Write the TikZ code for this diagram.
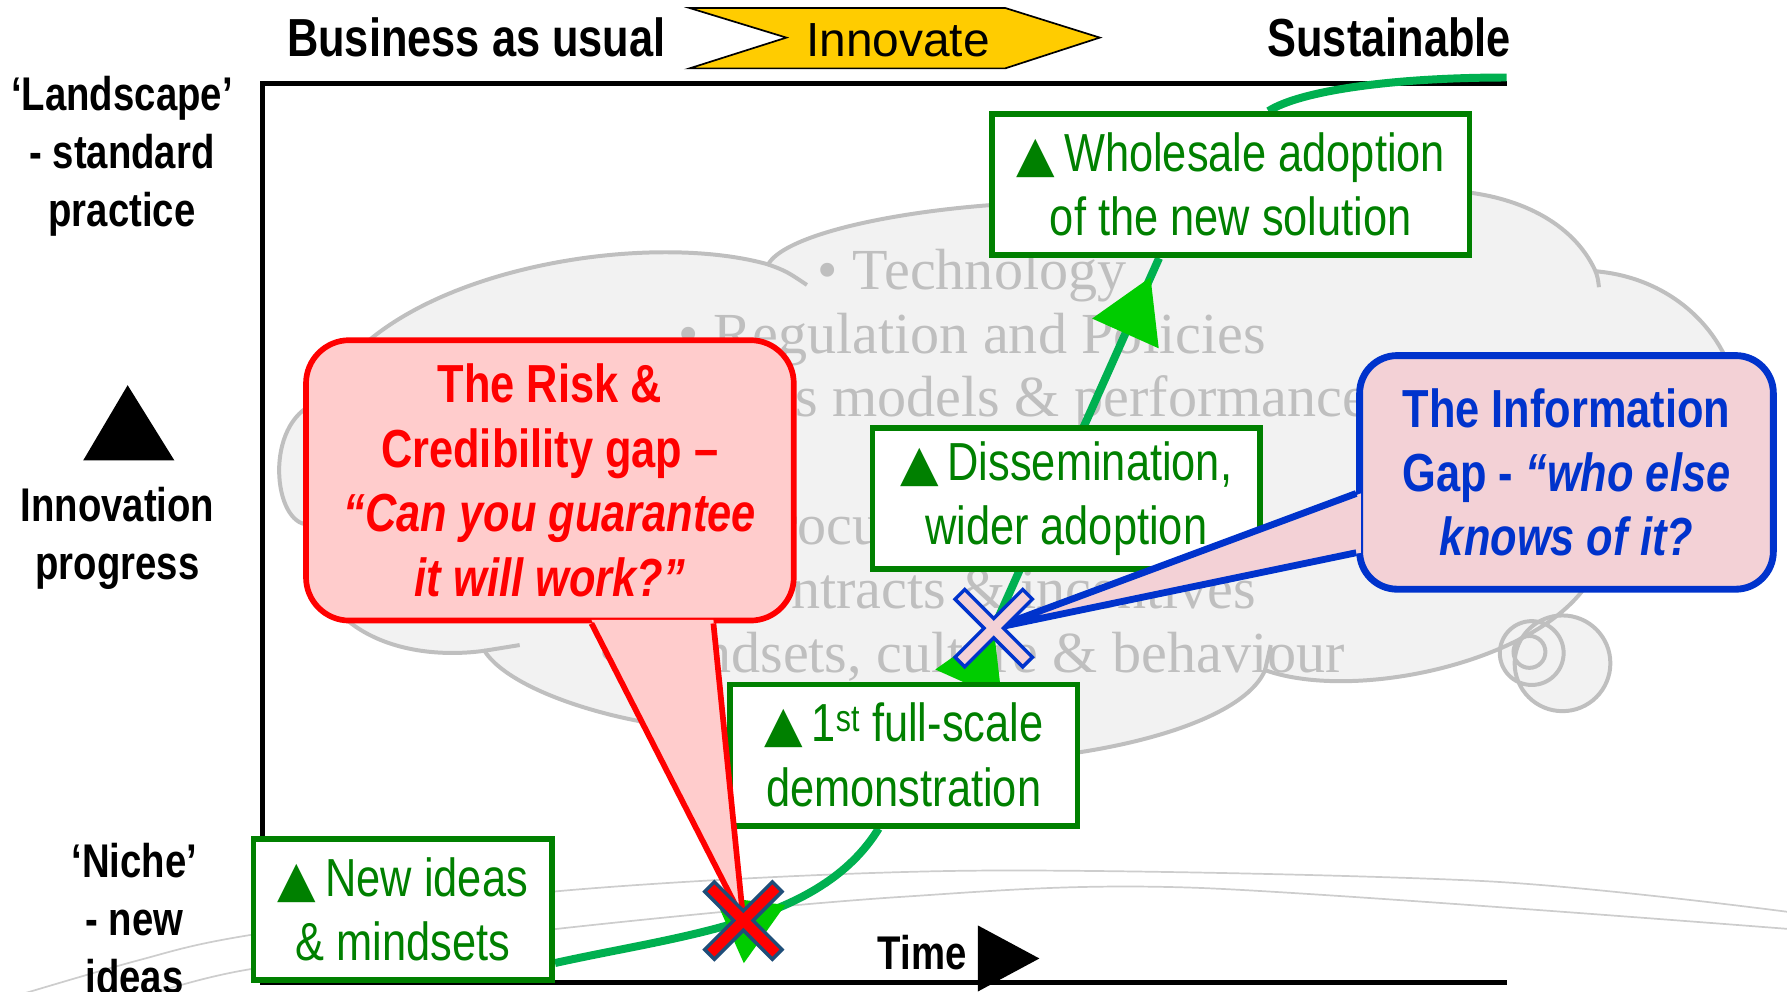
\documentclass[tikz,border=0pt]{standalone}
\usepackage{fontspec}
\newfontfamily\narrowsf[FakeStretch=0.81]{Liberation Sans}
\newfontfamily\plainsf{Liberation Sans}
\newfontfamily\cloudrm{Liberation Serif}
\newfontfamily\trifont{DejaVu Sans}
\newcommand\uptri{{\trifont\fontsize{44}{56.5}\selectfont ▲}\,}
\usetikzlibrary{arrows.meta,backgrounds,decorations.markings}

\definecolor{stagegreen}{RGB}{0,128,0}
\definecolor{curvegreen}{RGB}{0,176,80}
\definecolor{tipgreen}{RGB}{0,204,0}
\definecolor{cloudfill}{RGB}{242,242,242}
\definecolor{cloudline}{RGB}{191,191,191}
\definecolor{hillgray}{RGB}{205,205,205}
\definecolor{riskred}{RGB}{255,0,0}
\definecolor{riskfill}{RGB}{255,204,204}
\definecolor{infoblue}{RGB}{0,51,204}
\definecolor{infofill}{RGB}{243,209,214}
\definecolor{marknavy}{RGB}{31,78,121}
\definecolor{innoyellow}{RGB}{255,204,0}

\tikzset{
  labeltext/.style={font=\narrowsf\bfseries\fontsize{41.5}{51}\selectfont, align=center, inner sep=0pt},
  headtext/.style={font=\narrowsf\bfseries\fontsize{47}{56}\selectfont, inner sep=0pt},
  stagebox/.style={draw=stagegreen, line width=5pt, fill=white, text=stagegreen, align=center,
    inner sep=0pt, minimum height=124pt, font=\narrowsf\fontsize{47}{56.5}\selectfont},
  gapcall/.style={line width=5pt, rounded corners=38pt, align=center, inner sep=0pt,
    font=\narrowsf\bfseries\fontsize{47}{56.5}\selectfont},
  growline/.style={draw=curvegreen, line width=7pt},
  growtip/.style={postaction={decorate, decoration={markings, mark=at position #1 with
    {\arrow{Triangle[length=54pt, width=64pt, line width=0pt, color=tipgreen]}}}}},
  hillline/.style={draw=hillgray, line width=1.5pt},
  cloudshape/.style={fill=cloudfill, draw=cloudline, line width=3.5pt},
  axisline/.style={draw=black, line width=4.5pt}
}

\begin{document}
\begin{tikzpicture}[x=1pt, y=-1pt]
  \useasboundingbox (0,0) rectangle (1568,870);

  % stage boxes
  \node[stagebox, minimum width=262pt] (ideas) at (353.5,798) {\uptri New ideas\\\& mindsets};
  \node[stagebox, minimum width=305pt] (demo) at (793,662.5) {\uptri 1\textsuperscript{st} full-scale\\demonstration};
  \node[stagebox, minimum width=340pt] (spread) at (935.5,437.5) {\uptri Dissemination,\\wider adoption};
  \node[stagebox, minimum width=419pt] (adopt) at (1080,162) {\uptri Wholesale adoption\\of the new solution};
  \coordinate (sustain) at (1322,68);

  \begin{scope}[on background layer]
    % landscape hills
    \draw[hillline] plot[smooth] coordinates {(0,878) (120,843) (216,821) (489,782) (850,764) (1300,773) (1568,800)};
    \draw[hillline] plot[smooth] coordinates {(110,880) (216,851) (489,815) (790,787) (1050,779) (1568,815)};

    % cloud with its bubbles
    \fill[cloudfill] (1371,582) circle (42pt) (1344,573) circle (28pt);
    \filldraw[cloudshape] (282,352) .. controls (330,240) and (560,200) .. (674,232)
      .. controls (700,185) and (1000,150) .. (1150,205)
      .. controls (1200,150) and (1360,150) .. (1400,238)
      .. controls (1540,250) and (1590,440) .. (1405,480)
      .. controls (1395,570) and (1200,620) .. (1110,588)
      .. controls (1080,660) and (800,700) .. (630,640)
      .. controls (560,640) and (450,610) .. (425,571)
      .. controls (360,580) and (270,560) .. (268,460)
      .. controls (238,455) and (232,365) .. cycle;
    \draw[cloudshape, fill=none] (674,232) .. controls (690,238) .. (708,250)
      (1400,238) .. controls (1402,244) .. (1403,252)
      (1110,588) .. controls (1113,577) .. (1115,566)
      (425,571) .. controls (440,568) .. (456,566);
    \draw[cloudshape, fill=none] (1371,582) circle (42pt) (1344,573) circle (28pt) (1342,572) circle (14pt);
    \node[font=\cloudrm\fontsize{51}{56}\selectfont, text=cloudline, align=center, inner sep=0pt]
      (drivers) at (853,408) {• Technology\\• Regulation and Policies\\• Business models \& performance\\metrics\\• Procurement \& costs\\• Contracts \& incentives\\• Mindsets, culture \& behaviour};

    % axes
    \draw[axisline] (1322,73) -- (230,73) -- (230,862) -- (1322,862);

    % innovation curve
    \draw[growline, growtip=0.66] ([yshift=-47pt]ideas.east) .. controls (600,820) and (720,810)
      .. ([xshift=-22pt]demo.south) coordinate[pos=0.5] (riskgap);
    \draw[growline, growtip=0.126, growtip=0.955] ([xshift=58pt]demo.north)
      -- ([xshift=-63pt]adopt.south) coordinate[pos=0.126] (infogap);
    \draw[growline] ([xshift=33pt]adopt.north) .. controls (1140,80) and (1220,68) .. (sustain);
  \end{scope}

  % top heading
  \node[headtext] (usual) at (418,33) {Business as usual};
  \filldraw[fill=innoyellow, draw=black, line width=1.5pt] (605,7) -- (882,7) -- (965,33)
    -- (882,60) -- (605,60) -- (690,33) -- cycle;
  \node[font=\plainsf\fontsize{42}{50}\selectfont, inner sep=0pt] (innovate) at (788,35) {Innovate};
  \node[headtext] (sustainable) at (1219,33) {Sustainable};

  % side labels
  \node[labeltext] (landscape) at (107,137) {‘Landscape’\\- standard\\practice};
  \fill (112,338) -- (153,404) -- (73,404) -- cycle;
  \node[labeltext] (progress) at (103,472.5) {Innovation\\progress};
  \node[labeltext] (niche) at (118,806) {‘Niche’\\- new\\ideas};
  \node[labeltext] (time) at (809,836) {Time};
  \fill (858,812) -- (912,841) -- (858,870) -- cycle;

  % the two gaps
  \node[gapcall, draw=riskred, fill=riskfill, text=riskred, minimum width=428pt, minimum height=246pt]
    (riskcall) at (482.5,421.5) {The Risk \&\\Credibility gap –\\{\itshape “Can you guarantee}\\{\itshape it will work?”}};
  \fill[riskfill] ([xshift=36.5pt,yshift=3pt]riskcall.south) -- (riskgap) -- ([xshift=143.5pt,yshift=3pt]riskcall.south) -- cycle;
  \draw[riskred, line width=5pt, line join=round] ([xshift=36.5pt]riskcall.south) -- (riskgap) -- ([xshift=143.5pt]riskcall.south);

  \node[gapcall, line width=6pt, rounded corners=33pt, draw=infoblue, fill=infofill, text=infoblue,
    minimum width=363pt, minimum height=205pt]
    (infocall) at (1374.5,414.5) {The Information\\Gap - {\itshape “who else}\\{\itshape knows of it?}};
  \fill[infofill] ([xshift=4pt,yshift=-18.5pt]infocall.west) -- (infogap) -- ([xshift=4pt,yshift=-70.5pt]infocall.west) -- cycle;
  \draw[infoblue, line width=6pt, line join=round] ([yshift=-18.5pt]infocall.west) -- (infogap) -- ([yshift=-70.5pt]infocall.west);

  % crosses on the curve
  \foreach \spot/\rim/\core in {riskgap/marknavy/riskred, infogap/infoblue/infofill} {
    \filldraw[draw=\rim, fill=\core, line width=3pt, shift={(\spot)}, rotate=45]
      (6,6) -- (42,6) -- (42,-6) -- (6,-6) -- (6,-42) -- (-6,-42) -- (-6,-6) -- (-42,-6)
      -- (-42,6) -- (-6,6) -- (-6,42) -- (6,42) -- cycle;
  }

\end{tikzpicture}
\end{document}
